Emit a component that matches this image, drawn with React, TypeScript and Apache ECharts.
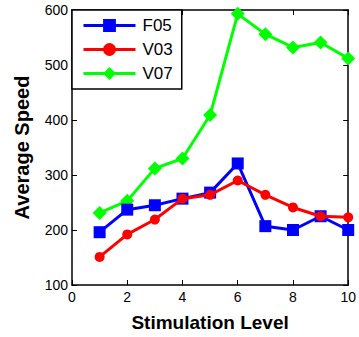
import React, { useEffect, useRef } from "react";
import * as echarts from "echarts";

const levels = [1, 2, 3, 4, 5, 6, 7, 8, 9, 10];
const f05 = [196, 237, 245, 257, 268, 321, 207, 200, 225, 200];
const v03 = [151, 192, 219, 257, 264, 290, 264, 241, 225, 223];
const v07 = [231, 253, 312, 330, 409, 593, 556, 532, 541, 512];
const seriesNames = ["F05", "V03", "V07"];

export default function App() {
  const ref = useRef<HTMLDivElement>(null);
  useEffect(() => {
    const chart = echarts.init(ref.current!, null, { renderer: "svg" });
    const pair = (arr: number[]) => levels.map((x, i) => [x, arr[i]]);
    const axisCommon = {
      axisLine: { show: true, onZero: false, lineStyle: { color: "#000", width: 1.5 } },
      axisTick: { show: true, inside: true, length: 5, lineStyle: { color: "#000" } },
      splitLine: { show: false },
    };
    const font = "Liberation Sans, Arial, sans-serif";
    chart.setOption({
      animation: false,
      backgroundColor: "#fff",
      grid: { left: 72, right: 9, top: 10, bottom: 50 },
      legend: {
        left: 72,
        top: 10,
        orient: "vertical",
        data: seriesNames,
        itemWidth: 52,
        itemHeight: 16,
        itemGap: 7,
        padding: [7, 9, 7, 10],
        backgroundColor: "#fff",
        borderColor: "#000",
        borderWidth: 1.5,
        borderRadius: 0,
        lineStyle: { width: 3 },
        textStyle: { fontFamily: font, fontSize: 17, color: "#000", padding: [0, 0, 0, 2] },
      },
      xAxis: [
        {
          type: "value",
          min: 0,
          max: 10,
          interval: 2,
          ...axisCommon,
          axisLabel: { fontFamily: font, fontSize: 14, color: "#000", margin: 5 },
          name: "Stimulation Level",
          nameLocation: "middle",
          nameGap: 28,
          nameTextStyle: { fontFamily: font, fontSize: 19, fontWeight: "bold", color: "#000" },
        },
        {
          type: "value",
          position: "top",
          min: 0,
          max: 10,
          interval: 2,
          ...axisCommon,
          axisLabel: { show: false },
        },
      ],
      yAxis: [
        {
          type: "value",
          min: 100,
          max: 600,
          interval: 100,
          ...axisCommon,
          axisLabel: { fontFamily: font, fontSize: 14, color: "#000", margin: 4 },
          name: "Average Speed",
          nameLocation: "middle",
          nameGap: 40,
          nameTextStyle: { fontFamily: font, fontSize: 20, fontWeight: "bold", color: "#000" },
        },
        {
          type: "value",
          position: "right",
          min: 100,
          max: 600,
          interval: 100,
          ...axisCommon,
          axisLabel: { show: false },
        },
      ],
      series: [
        {
          name: "F05",
          type: "line",
          data: pair(f05),
          symbol: "rect",
          symbolSize: 12,
          lineStyle: { color: "#0000ff", width: 3 },
          itemStyle: { color: "#0000ff" },
          z: 3,
        },
        {
          name: "V03",
          type: "line",
          data: pair(v03),
          symbol: "circle",
          symbolSize: 10,
          lineStyle: { color: "#ff0000", width: 3 },
          itemStyle: { color: "#ff0000" },
          z: 4,
        },
        {
          name: "V07",
          type: "line",
          data: pair(v07),
          symbol: "diamond",
          symbolSize: 14,
          lineStyle: { color: "#00ff00", width: 3 },
          itemStyle: { color: "#00ff00" },
          z: 2,
        },
      ],
    });
    return () => chart.dispose();
  }, []);
  return (
    <div
      ref={ref}
      style={{ position: "fixed", left: 0, top: 0, width: 359, height: 337 }}
    />
  );
}
